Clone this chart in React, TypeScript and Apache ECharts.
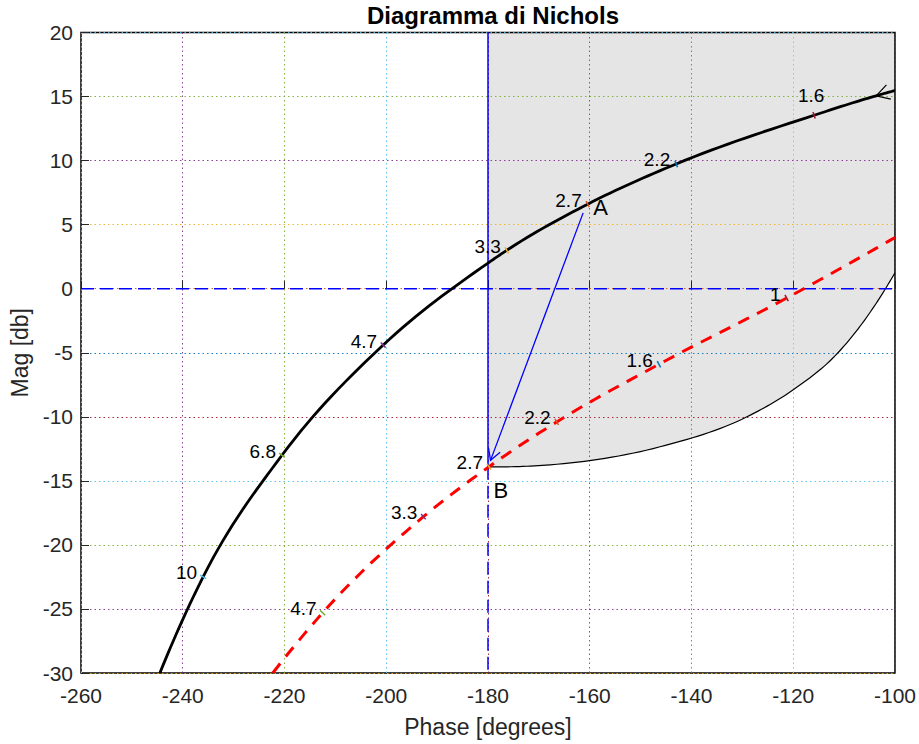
import React, { useEffect, useRef } from 'react';
import * as echarts from 'echarts';

const FONT = '"Liberation Sans", Arial, Helvetica, sans-serif';
const TEXT_DARK = '#262626';

// Uncompensated loop locus L(jw) on the Nichols plane
const locusPhase = [-244.5, -236.0, -220.5, -200.6, -180.0, -176.3, -160.4, -143.0, -115.9, -103.7, -100.0];
const locusMag = [-30, -22.5, -13.0, -4.4, 2.0, 3.0, 6.6, 9.74, 13.54, 15.06, 15.47];

// Frequency markers on the uncompensated locus [rad/s]
const locusFreqLabels = ['10', '6.8', '4.7', '3.3', '2.7', '2.2', '1.6'];
const locusFreqPhase = [-236.0, -220.5, -200.6, -176.3, -160.4, -143.0, -115.9];
const locusFreqMag = [-22.5, -13.0, -4.4, 3.0, 6.6, 9.74, 13.54];

// Compensated locus
const compPhase = [-222.3, -212.5, -192.7, -179.8, -166.5, -146.4, -121.3, -100.0];
const compMag = [-30, -25.3, -17.8, -13.9, -10.4, -5.9, -0.73, 4.0];

// Frequency markers on the compensated locus [rad/s]
const compFreqLabels = ['4.7', '3.3', '2.7', '2.2', '1.6', '1'];
const compFreqPhase = [-212.5, -192.7, -179.8, -166.5, -146.4, -121.3];
const compFreqMag = [-25.3, -17.8, -13.9, -10.4, -5.9, -0.73];

// Lower edge of the admissible region (shaded above it)
const regionPhase = [-180, -167.8, -146.2, -129.1, -120.0, -111.2, -105.5, -100];
const regionMag = [-13.9, -13.75, -12.34, -10.0, -7.89, -5.0, -2.19, 1.25];

// Design move from A (on the locus) to B (target point)
const pointA = [-161.3, 5.92];
const pointB = [-179.5, -13.4];

// Direction arrow on the uncompensated locus
const directionTip = [-103.7, 15.06];

// Critical lines
const criticalPhase = -180;
const zeroMag = 0;

// Axis ranges
const phaseMin = -260;
const phaseMax = -100;
const phaseStep = 20;
const magMin = -30;
const magMax = 20;
const magStep = 5;

// Colour cycle used for the grid and the frequency ticks
const GRID_COLORS = ['#EDB120', '#7E2F8E', '#77AC30', '#4DBEEE', '#A2142F', '#0072BD', '#D95319'];
const LOCUS_TICK_COLORS = ['#4DBEEE', '#77AC30', '#7E2F8E', '#EDB120', '#D95319', '#0072BD', '#A2142F'];
const COMP_TICK_COLORS = ['#77AC30', '#7E2F8E', '#EDB120', '#D95319', '#0072BD', '#A2142F'];

const zip = (xs: number[], ys: number[]) => xs.map((x, i) => [x, ys[i]]);

// Smooth pixel path y(x) through the given points: cubic Hermite segments with
// three-point (parabolic) slopes, which suit unevenly spaced samples.
function smoothPath(pts: number[][], steps = 16): number[][] {
  const n = pts.length;
  if (n < 3) return pts;
  const h: number[] = [];
  const del: number[] = [];
  for (let i = 0; i < n - 1; i++) {
    const dx = pts[i + 1][0] - pts[i][0] || 1e-6;
    h.push(dx);
    del.push((pts[i + 1][1] - pts[i][1]) / dx);
  }
  const m: number[] = [];
  for (let i = 0; i < n; i++) {
    if (i === 0) {
      m.push(((2 * h[0] + h[1]) * del[0] - h[0] * del[1]) / (h[0] + h[1]));
    } else if (i === n - 1) {
      const a = h[n - 2], b = h[n - 3];
      m.push(((2 * a + b) * del[n - 2] - a * del[n - 3]) / (a + b));
    } else {
      m.push((h[i] * del[i - 1] + h[i - 1] * del[i]) / (h[i - 1] + h[i]));
    }
  }
  const out: number[][] = [pts[0]];
  for (let i = 0; i < n - 1; i++) {
    const x0 = pts[i][0], y0 = pts[i][1], y1 = pts[i + 1][1];
    for (let s = 1; s <= steps; s++) {
      const t = s / steps;
      const t2 = t * t, t3 = t2 * t;
      const h00 = 2 * t3 - 3 * t2 + 1;
      const h10 = t3 - 2 * t2 + t;
      const h01 = -2 * t3 + 3 * t2;
      const h11 = t3 - t2;
      out.push([x0 + t * h[i], h00 * y0 + h10 * h[i] * m[i] + h01 * y1 + h11 * h[i] * m[i + 1]]);
    }
  }
  return out;
}

const EMPTY = { type: 'group', children: [] };

function curveSeries(ph: number[], mg: number[], z: number, style: any) {
  return {
    type: 'custom',
    silent: true,
    clip: true,
    z,
    data: zip(ph, mg),
    renderItem: (params: any, api: any) => {
      if (params.dataIndex !== 0) return EMPTY;
      const pts = smoothPath(ph.map((p, i) => api.coord([p, mg[i]])));
      return { type: 'polyline', shape: { points: pts }, style: { fill: 'none', ...style } };
    },
  };
}

function regionSeries() {
  return {
    type: 'custom',
    silent: true,
    clip: true,
    z: -1,
    data: zip(regionPhase, regionMag),
    renderItem: (params: any, api: any) => {
      if (params.dataIndex !== 0) return EMPTY;
      const pts = smoothPath(regionPhase.map((p, i) => api.coord([p, regionMag[i]])));
      pts.push(api.coord([phaseMax, magMax]));
      pts.push(api.coord([criticalPhase, magMax]));
      return { type: 'polygon', shape: { points: pts }, style: { fill: '#e5e5e5', stroke: 'none' } };
    },
  };
}

function tangentAt(api: any, curveP: number[], curveM: number[], phase: number) {
  let k = 0;
  let best = Infinity;
  curveP.forEach((p, i) => {
    const dd = Math.abs(p - phase);
    if (dd < best) {
      best = dd;
      k = i;
    }
  });
  const i0 = Math.max(k - 1, 0);
  const i1 = Math.min(k + 1, curveP.length - 1);
  const p0 = api.coord([curveP[i0], curveM[i0]]);
  const p1 = api.coord([curveP[i1], curveM[i1]]);
  const dx = p1[0] - p0[0];
  const dy = p1[1] - p0[1];
  const len = Math.hypot(dx, dy) || 1;
  return [dx / len, dy / len];
}

function markerSeries(
  phases: number[],
  mags: number[],
  labels: string[],
  colors: string[],
  curveP: number[],
  curveM: number[],
  aboveIdx: number[]
) {
  return {
    type: 'custom',
    silent: true,
    z: 8,
    data: zip(phases, mags),
    renderItem: (params: any, api: any) => {
      const i = params.dataIndex;
      const ph = api.value(0);
      const pt = api.coord([ph, api.value(1)]);
      const t = tangentAt(api, curveP, curveM, ph);
      const n = [-t[1], t[0]];
      const hl = 3.5;
      const above = aboveIdx.indexOf(i) >= 0;
      return {
        type: 'group',
        children: [
          {
            type: 'line',
            shape: { x1: pt[0] - n[0] * hl, y1: pt[1] - n[1] * hl, x2: pt[0] + n[0] * hl, y2: pt[1] + n[1] * hl },
            style: { stroke: colors[i], lineWidth: 1.5 },
          },
          {
            type: 'text',
            x: above ? pt[0] - 3 : pt[0] - 6,
            y: above ? pt[1] - 20 : pt[1] - 4,
            style: {
              text: labels[i],
              fill: '#000',
              fontSize: 19,
              fontFamily: FONT,
              align: above ? 'center' : 'right',
              verticalAlign: 'middle',
              textAlign: above ? 'center' : 'right',
              textVerticalAlign: 'middle',
            },
          },
        ],
      };
    },
  };
}

function straight(data: number[][], lineStyle: any) {
  return { type: 'line', data, showSymbol: false, symbol: 'none', silent: true, z: 3, lineStyle };
}

function buildOption() {
  const gridSplit = {
    show: true,
    lineStyle: { color: GRID_COLORS, width: 1, type: [1.5, 3], opacity: 0.9 },
  };
  const tickStyle = { show: true, inside: true, length: 8, lineStyle: { color: TEXT_DARK, width: 1 } };

  return {
    animation: false,
    backgroundColor: '#fff',
    title: {
      text: 'Diagramma di Nichols',
      left: 488,
      top: -2,
      textAlign: 'center',
      textStyle: { fontFamily: FONT, fontSize: 24, fontWeight: 'bold', color: '#000' },
    },
    grid: {
      left: 81,
      right: 24,
      top: 32.5,
      bottom: 71,
      show: true,
      borderColor: '#000',
      borderWidth: 1.5,
      backgroundColor: 'transparent',
    },
    xAxis: {
      type: 'value',
      min: phaseMin,
      max: phaseMax,
      interval: phaseStep,
      name: 'Phase [degrees]',
      nameLocation: 'middle',
      nameGap: 42,
      nameTextStyle: { fontFamily: FONT, fontSize: 23, color: TEXT_DARK },
      axisLine: { show: false },
      axisTick: tickStyle,
      axisLabel: { fontFamily: FONT, fontSize: 21, color: TEXT_DARK, margin: 12 },
      splitLine: gridSplit,
    },
    yAxis: {
      type: 'value',
      min: magMin,
      max: magMax,
      interval: magStep,
      name: 'Mag [db]',
      nameLocation: 'middle',
      nameGap: 46,
      nameTextStyle: { fontFamily: FONT, fontSize: 23, color: TEXT_DARK },
      axisLine: { show: false },
      axisTick: tickStyle,
      axisLabel: { fontFamily: FONT, fontSize: 21, color: TEXT_DARK, margin: 8 },
      splitLine: gridSplit,
    },
    series: [
      regionSeries(),
      curveSeries(regionPhase, regionMag, 3, { stroke: '#000', lineWidth: 1.2 }),
      // -180 deg line: solid above B, dashed below
      straight([[criticalPhase, magMax], [criticalPhase, compFreqMag[2]]], { width: 1.5, color: '#0000FF' }),
      straight([[criticalPhase, compFreqMag[2]], [criticalPhase, magMin]], { width: 1.5, color: '#0000FF', type: [13, 6] }),
      // 0 dB line
      straight([[phaseMin, zeroMag], [phaseMax, zeroMag]], { width: 1.5, color: '#0000FF', type: [13, 6] }),
      // compensated locus
      curveSeries(compPhase, compMag, 4, { stroke: '#FF0000', lineWidth: 3, lineDash: [12, 9] }),
      // uncompensated locus
      curveSeries(locusPhase, locusMag, 5, { stroke: '#000', lineWidth: 2.8 }),
      markerSeries(locusFreqPhase, locusFreqMag, locusFreqLabels, LOCUS_TICK_COLORS, locusPhase, locusMag, [6]),
      markerSeries(compFreqPhase, compFreqMag, compFreqLabels, COMP_TICK_COLORS, compPhase, compMag, []),
      // direction arrow on the locus
      {
        type: 'custom',
        silent: true,
        z: 7,
        data: [directionTip],
        renderItem: (params: any, api: any) => {
          const tip = api.coord([api.value(0), api.value(1)]);
          const t = tangentAt(api, locusPhase, locusMag, api.value(0));
          const ang = Math.atan2(t[1], t[0]);
          const L = 15;
          const s = 0.52;
          const a1 = [tip[0] + L * Math.cos(ang - s), tip[1] + L * Math.sin(ang - s)];
          const a2 = [tip[0] + L * Math.cos(ang + s), tip[1] + L * Math.sin(ang + s)];
          return {
            type: 'polyline',
            shape: { points: [a1, tip, a2] },
            style: { stroke: '#000', lineWidth: 1.2, fill: 'none' },
          };
        },
      },
      // design arrow A -> B with labels
      {
        type: 'custom',
        silent: true,
        z: 9,
        data: [[pointA[0], pointA[1], pointB[0], pointB[1]]],
        renderItem: (params: any, api: any) => {
          const a = api.coord([api.value(0), api.value(1)]);
          const b = api.coord([api.value(2), api.value(3)]);
          const ang = Math.atan2(a[1] - b[1], a[0] - b[0]);
          const L = 12.5;
          const s = 0.52;
          const h1 = [b[0] + L * Math.cos(ang - s), b[1] + L * Math.sin(ang - s)];
          const h2 = [b[0] + L * Math.cos(ang + s), b[1] + L * Math.sin(ang + s)];
          const txt = (text: string, x: number, y: number) => ({
            type: 'text',
            x,
            y,
            style: {
              text,
              fill: '#000',
              fontSize: 22,
              fontFamily: FONT,
              align: 'left',
              verticalAlign: 'middle',
              textAlign: 'left',
              textVerticalAlign: 'middle',
            },
          });
          return {
            type: 'group',
            children: [
              {
                type: 'line',
                shape: { x1: a[0], y1: a[1], x2: b[0], y2: b[1] },
                style: { stroke: '#0000FF', lineWidth: 1.3 },
              },
              {
                type: 'polyline',
                shape: { points: [h1, b, h2] },
                style: { stroke: '#0000FF', lineWidth: 1.3, fill: 'none' },
              },
              txt('A', a[0] + 10, a[1] - 5),
              txt('B', b[0] + 3, b[1] + 30),
            ],
          };
        },
      },
    ],
  };
}

export default function App() {
  const ref = useRef<HTMLDivElement>(null);
  useEffect(() => {
    if (!ref.current) return;
    const chart = echarts.init(ref.current, null, { renderer: 'svg' });
    chart.setOption(buildOption() as any);
    return () => chart.dispose();
  }, []);
  return <div ref={ref} style={{ position: 'fixed', left: 0, top: 0, width: 919, height: 744 }} />;
}
